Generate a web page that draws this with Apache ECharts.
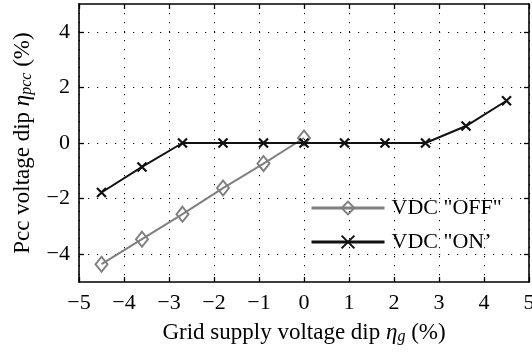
<!DOCTYPE html>
<html><head><meta charset="utf-8">
<script src="https://cdn.jsdelivr.net/npm/echarts@6/dist/echarts.min.js"></script>
<style>html,body{margin:0;padding:0;background:#fff}#c{width:532px;height:352px}</style>
</head><body><div id="c"></div>
<script>
const xValues = [-4.5, -3.6, -2.7, -1.8, -0.9, 0, 0.9, 1.8, 2.7, 3.6, 4.5];
const offValues = [-4.36, -3.46, -2.56, -1.62, -0.74, 0.18];
const onValues = [-1.78, -0.86, 0, 0, 0, 0, 0, 0, 0, 0.61, 1.52];
const yTicks = [-4, -2, 0, 2, 4];
const seriesNames = ['VDC "OFF"', 'VDC "ON\u2019'];

const FONT = 'Liberation Serif';
const minus = v => String(v).replace('-', '\u2212');
const dotted = {show: true, lineStyle: {color: '#000', width: 1, type: [1.2, 7.8]}};
const axisLine = {show: true, onZero: false, lineStyle: {color: '#000', width: 1.6}};
const tick = {show: true, inside: true, length: 5, lineStyle: {color: '#000', width: 1.3}};
const crossPath = 'path://M0,0L10,10M10,0L0,10';
const rich = {
  t: {fontFamily: FONT, fontSize: 23, color: '#000'},
  i: {fontFamily: FONT, fontSize: 23, fontStyle: 'italic', color: '#000'},
  s: {fontFamily: FONT, fontSize: 16, fontStyle: 'italic', color: '#000', padding: [9, 0, 0, 0]}
};

const chart = echarts.init(document.getElementById('c'));
chart.setOption({
  animation: false,
  grid: {left: 79, right: 3, top: 4, bottom: 70, containLabel: false, outerBoundsMode: 'none'},
  legend: {
    left: 310, top: 197, orient: 'vertical', padding: 0, itemWidth: 73, itemHeight: 16, itemGap: 12,
    lineStyle: {width: 3},
    textStyle: {fontFamily: FONT, fontSize: 22, color: '#000', padding: [0, 0, 0, 2]},
    data: seriesNames
  },
  xAxis: [{
    type: 'value', min: -5, max: 5, interval: 1, position: 'bottom',
    axisLine: axisLine, axisTick: tick, splitLine: dotted,
    axisLabel: {color: '#000', fontFamily: FONT, fontSize: 22, margin: 10, formatter: minus},
    name: '{t|Grid supply voltage dip }{i|\u03b7}{s|g}{t| (%)}', nameLocation: 'middle', nameGap: 38,
    nameTextStyle: {rich: rich}
  }, {
    type: 'value', min: -5, max: 5, interval: 1, position: 'top',
    axisLine: axisLine, axisTick: tick, splitLine: {show: false}, axisLabel: {show: false}
  }],
  yAxis: [{
    type: 'value', min: -5, max: 5, position: 'left',
    axisLine: axisLine,
    axisTick: Object.assign({customValues: yTicks}, tick),
    splitLine: dotted,
    axisLabel: {customValues: yTicks, color: '#000', fontFamily: FONT, fontSize: 22, margin: 9, formatter: minus},
    name: '{t|Pcc voltage dip }{i|\u03b7}{s|pcc}{t| (%)}', nameLocation: 'middle', nameGap: 44,
    nameTextStyle: {rich: rich}
  }, {
    type: 'value', min: -5, max: 5, position: 'right',
    axisLine: axisLine,
    axisTick: Object.assign({customValues: yTicks}, tick),
    splitLine: {show: false}, axisLabel: {show: false}
  }],
  series: [{
    name: seriesNames[0], type: 'line',
    data: offValues.map((v, i) => [xValues[i], v]),
    symbol: 'diamond', symbolSize: [12, 15],
    lineStyle: {color: '#808080', width: 2},
    itemStyle: {color: 'rgba(255,255,255,0)', borderColor: '#808080', borderWidth: 2},
    z: 3
  }, {
    name: seriesNames[1], type: 'line',
    data: onValues.map((v, i) => [xValues[i], v]),
    symbol: crossPath, symbolSize: 9,
    lineStyle: {color: '#111', width: 2},
    itemStyle: {color: '#111', borderColor: '#111', borderWidth: 2.2},
    z: 4
  }]
});
</script></body></html>
